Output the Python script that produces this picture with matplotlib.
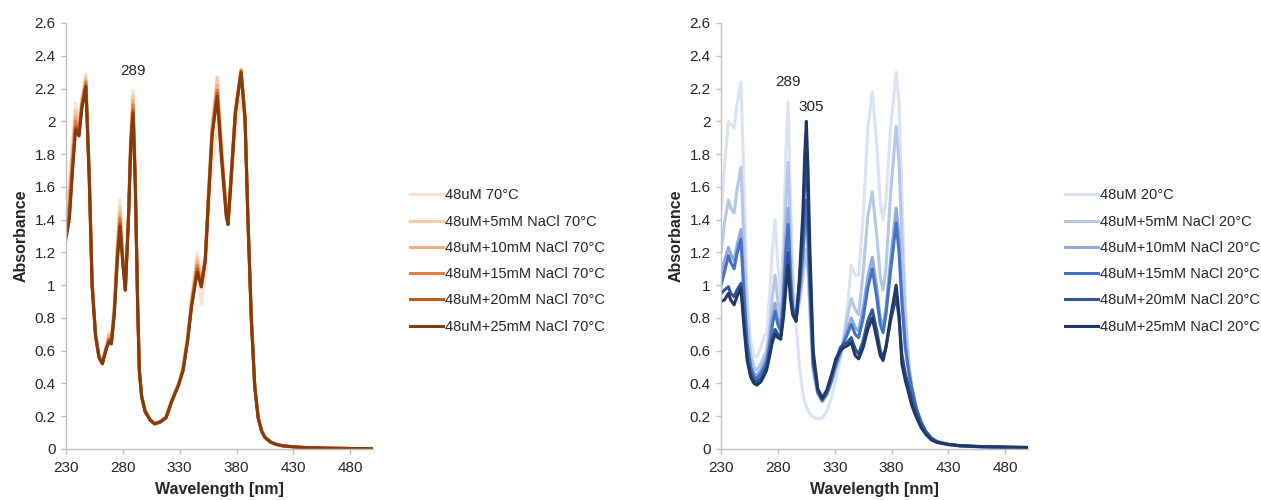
"""
UV-Vis absorbance spectra of a 48 uM sample with increasing NaCl, at 70 C and at 20 C
"""

import matplotlib.pyplot as plt
from matplotlib.ticker import FuncFormatter, MultipleLocator

plt.rcParams['font.family'] = ['Liberation Sans', 'DejaVu Sans']

# ---- 70 C panel -------------------------------------------------------------
wl_70 = [230, 233, 236, 238.5, 241.5, 244, 247.5, 250.5, 253, 256, 259, 262, 265.5, 268, 270, 272.5,
         275, 277.5, 280, 282.2, 285, 287, 289, 291, 293, 294.5, 296.5, 299.5, 304, 308, 313, 318,
         323, 329, 333, 337, 340.5, 345.5, 349, 352.5, 355.5, 358.5, 363, 367, 371, 372.5, 375, 379,
         384, 387.5, 390, 393, 396, 399, 402, 405, 410, 415, 420, 430, 440, 460, 480, 500]

abs_70_0 = [1.50, 1.62, 1.90, 2.11, 2.00, 2.15, 2.29, 1.72, 1.04, 0.72, 0.58, 0.54, 0.64, 0.72, 0.70, 0.88,
            1.25, 1.52, 1.20, 0.98, 1.45, 1.95, 2.19, 1.68, 0.92, 0.50, 0.33, 0.24, 0.18, 0.16, 0.17, 0.20,
            0.30, 0.40, 0.50, 0.70, 0.93, 1.20, 0.88, 1.05, 1.40, 1.72, 1.97, 1.70, 1.42, 1.38, 1.58, 1.92,
            2.16, 1.98, 1.45, 0.82, 0.40, 0.20, 0.115, 0.075, 0.045, 0.03, 0.022, 0.014, 0.01, 0.006, 0.004, 0.002]
abs_70_5 = [1.46, 1.58, 1.86, 2.07, 1.98, 2.13, 2.27, 1.70, 1.03, 0.71, 0.57, 0.53, 0.63, 0.70, 0.68, 0.86,
            1.22, 1.48, 1.18, 0.98, 1.44, 1.93, 2.16, 1.66, 0.91, 0.49, 0.33, 0.24, 0.18, 0.158, 0.168, 0.20,
            0.30, 0.40, 0.50, 0.69, 0.91, 1.17, 1.02, 1.18, 1.60, 1.98, 2.27, 1.84, 1.46, 1.40, 1.66, 2.08,
            2.32, 2.04, 1.44, 0.82, 0.40, 0.20, 0.115, 0.074, 0.044, 0.029, 0.021, 0.014, 0.009, 0.005, 0.003, 0.002]
abs_70_10 = [1.40, 1.52, 1.82, 2.03, 1.96, 2.11, 2.25, 1.68, 1.02, 0.70, 0.57, 0.53, 0.62, 0.69, 0.67, 0.85,
             1.19, 1.44, 1.16, 0.97, 1.43, 1.90, 2.13, 1.64, 0.90, 0.49, 0.33, 0.235, 0.178, 0.155, 0.166, 0.195,
             0.295, 0.395, 0.49, 0.68, 0.90, 1.15, 1.01, 1.17, 1.58, 1.96, 2.22, 1.81, 1.45, 1.39, 1.65, 2.07,
             2.31, 2.03, 1.42, 0.81, 0.39, 0.195, 0.112, 0.072, 0.043, 0.028, 0.02, 0.013, 0.009, 0.005, 0.003, 0.002]
abs_70_15 = [1.36, 1.48, 1.78, 2.00, 1.94, 2.10, 2.24, 1.67, 1.01, 0.70, 0.565, 0.525, 0.62, 0.675, 0.66, 0.84,
             1.17, 1.41, 1.15, 0.97, 1.42, 1.88, 2.10, 1.62, 0.895, 0.485, 0.325, 0.232, 0.178, 0.154, 0.166, 0.193,
             0.293, 0.393, 0.485, 0.67, 0.89, 1.12, 1.00, 1.16, 1.56, 1.94, 2.19, 1.79, 1.44, 1.38, 1.64, 2.06,
             2.31, 2.02, 1.41, 0.80, 0.385, 0.192, 0.11, 0.071, 0.042, 0.028, 0.02, 0.013, 0.009, 0.005, 0.003, 0.002]
abs_70_20 = [1.31, 1.43, 1.74, 1.97, 1.92, 2.09, 2.22, 1.65, 1.00, 0.69, 0.56, 0.52, 0.615, 0.665, 0.65, 0.83,
             1.15, 1.38, 1.14, 0.97, 1.41, 1.86, 2.07, 1.61, 0.89, 0.48, 0.32, 0.23, 0.177, 0.153, 0.165, 0.19,
             0.29, 0.39, 0.48, 0.665, 0.88, 1.10, 0.99, 1.15, 1.55, 1.92, 2.17, 1.77, 1.43, 1.37, 1.63, 2.05,
             2.30, 2.01, 1.40, 0.79, 0.38, 0.19, 0.11, 0.07, 0.042, 0.028, 0.02, 0.013, 0.009, 0.005, 0.003, 0.002]
abs_70_25 = [1.28, 1.40, 1.72, 1.95, 1.91, 2.08, 2.21, 1.64, 0.99, 0.69, 0.56, 0.52, 0.61, 0.655, 0.64, 0.82,
             1.13, 1.36, 1.13, 0.97, 1.40, 1.85, 2.05, 1.60, 0.89, 0.48, 0.32, 0.23, 0.177, 0.153, 0.165, 0.19,
             0.29, 0.39, 0.48, 0.66, 0.87, 1.08, 0.99, 1.15, 1.54, 1.91, 2.15, 1.76, 1.42, 1.37, 1.62, 2.05,
             2.30, 2.01, 1.40, 0.79, 0.38, 0.19, 0.11, 0.07, 0.042, 0.028, 0.02, 0.013, 0.009, 0.005, 0.003, 0.002]

labels_70 = ["48uM 70°C", "48uM+5mM NaCl 70°C", "48uM+10mM NaCl 70°C",
             "48uM+15mM NaCl 70°C", "48uM+20mM NaCl 70°C", "48uM+25mM NaCl 70°C"]

# ---- 20 C panel -------------------------------------------------------------
wl_20 = [230, 233, 236.5, 238.5, 241.5, 244, 247.5, 250.5, 253, 256, 259, 261.5, 265, 268, 270, 272.5,
         275, 277.5, 280, 282.5, 285, 287, 289, 291, 293, 296, 299, 302, 303.5, 305, 306.5, 308,
         311, 315, 319, 323, 327, 331, 335, 338, 341, 344.5, 348, 351, 355, 359, 363, 367,
         370, 372.5, 375, 379, 384, 386.5, 389, 392, 395, 398, 402, 406, 410, 415, 420, 430,
         440, 460, 480, 500]

abs_20_0 = [1.44, 1.72, 2.00, 1.98, 1.96, 2.10, 2.24, 1.55, 0.95, 0.66, 0.57, 0.56, 0.62, 0.69, 0.70, 0.92,
            1.20, 1.40, 1.12, 0.92, 1.30, 1.80, 2.12, 1.55, 1.10, 0.76, 0.50, 0.34, 0.29, 0.26, 0.235, 0.215,
            0.195, 0.185, 0.19, 0.23, 0.31, 0.42, 0.55, 0.68, 0.85, 1.12, 1.06, 1.06, 1.42, 1.95, 2.18, 1.85,
            1.50, 1.40, 1.52, 1.95, 2.30, 2.12, 1.55, 0.88, 0.56, 0.38, 0.25, 0.16, 0.10, 0.06, 0.04, 0.025,
            0.018, 0.012, 0.008, 0.006]
abs_20_5 = [1.20, 1.38, 1.52, 1.47, 1.44, 1.58, 1.72, 1.20, 0.80, 0.58, 0.50, 0.48, 0.52, 0.57, 0.60, 0.72,
            0.92, 1.06, 0.90, 0.82, 1.10, 1.50, 1.75, 1.30, 0.95, 0.80, 0.90, 1.05, 1.15, 1.22, 1.08, 0.85,
            0.48, 0.34, 0.29, 0.33, 0.40, 0.49, 0.57, 0.68, 0.80, 0.92, 0.85, 0.82, 1.08, 1.42, 1.57, 1.30,
            1.05, 0.97, 1.10, 1.55, 1.97, 1.75, 1.30, 0.80, 0.52, 0.37, 0.24, 0.16, 0.10, 0.06, 0.04, 0.025,
            0.018, 0.012, 0.009, 0.007]
abs_20_10 = [1.07, 1.15, 1.23, 1.19, 1.15, 1.24, 1.34, 0.95, 0.68, 0.52, 0.46, 0.45, 0.48, 0.53, 0.56, 0.66,
             0.80, 0.89, 0.80, 0.76, 0.98, 1.28, 1.47, 1.12, 0.88, 0.79, 0.95, 1.15, 1.33, 1.45, 1.25, 0.95,
             0.50, 0.34, 0.29, 0.33, 0.41, 0.50, 0.58, 0.66, 0.73, 0.80, 0.74, 0.72, 0.86, 1.05, 1.17, 0.98,
             0.80, 0.74, 0.86, 1.15, 1.47, 1.30, 0.95, 0.66, 0.48, 0.36, 0.24, 0.16, 0.105, 0.065, 0.045, 0.027,
             0.02, 0.013, 0.01, 0.008]
abs_20_15 = [1.00, 1.08, 1.18, 1.14, 1.10, 1.19, 1.28, 0.90, 0.64, 0.50, 0.44, 0.43, 0.46, 0.50, 0.53, 0.62,
             0.75, 0.84, 0.76, 0.72, 0.92, 1.20, 1.37, 1.05, 0.86, 0.79, 0.98, 1.22, 1.40, 1.52, 1.30, 1.00,
             0.52, 0.35, 0.30, 0.34, 0.42, 0.52, 0.60, 0.65, 0.70, 0.76, 0.70, 0.68, 0.80, 0.98, 1.10, 0.92,
             0.76, 0.71, 0.82, 1.08, 1.38, 1.20, 0.90, 0.62, 0.47, 0.36, 0.24, 0.165, 0.11, 0.068, 0.046, 0.028,
             0.02, 0.013, 0.01, 0.008]
abs_20_20 = [0.95, 0.97, 0.99, 0.95, 0.93, 0.97, 1.01, 0.75, 0.57, 0.46, 0.42, 0.41, 0.43, 0.47, 0.50, 0.58,
             0.67, 0.73, 0.70, 0.69, 0.85, 1.05, 1.20, 0.96, 0.83, 0.78, 1.02, 1.35, 1.62, 1.80, 1.50, 1.12,
             0.55, 0.36, 0.30, 0.35, 0.44, 0.54, 0.62, 0.64, 0.65, 0.68, 0.61, 0.58, 0.66, 0.78, 0.85, 0.72,
             0.60, 0.56, 0.62, 0.78, 0.93, 0.80, 0.58, 0.46, 0.38, 0.30, 0.22, 0.15, 0.10, 0.06, 0.042, 0.028,
             0.02, 0.014, 0.011, 0.009]
abs_20_25 = [0.90, 0.91, 0.95, 0.91, 0.88, 0.93, 0.98, 0.72, 0.54, 0.44, 0.40, 0.39, 0.41, 0.45, 0.48, 0.56,
             0.65, 0.70, 0.68, 0.67, 0.81, 0.98, 1.12, 0.92, 0.82, 0.78, 1.05, 1.45, 1.78, 2.00, 1.70, 1.25,
             0.60, 0.37, 0.31, 0.36, 0.45, 0.55, 0.60, 0.62, 0.63, 0.65, 0.57, 0.55, 0.62, 0.73, 0.80, 0.67,
             0.57, 0.54, 0.62, 0.80, 1.00, 0.82, 0.52, 0.42, 0.34, 0.26, 0.19, 0.13, 0.09, 0.055, 0.04, 0.028,
             0.02, 0.015, 0.012, 0.01]

labels_20 = ["48uM 20°C", "48uM+5mM NaCl 20°C", "48uM+10mM NaCl 20°C",
             "48uM+15mM NaCl 20°C", "48uM+20mM NaCl 20°C", "48uM+25mM NaCl 20°C"]

oranges = ["#fbe2d2", "#f8c9aa", "#f3ad7e", "#e57f3f", "#c45a17", "#843c0c"]
blues = ["#dae3f3", "#b4c7e7", "#8faadc", "#4472c4", "#2f5597", "#1f3864"]

TEXT = "#262626"
GRID = "#bfbfbf"


def style_axis(ax):
    """Excel-like axis: grey left/bottom spines, fixed ranges and plain tick labels"""
    ax.set_xlim(230, 500)
    ax.set_ylim(0, 2.6)
    ax.set_xticks([230, 280, 330, 380, 430, 480])
    ax.yaxis.set_major_locator(MultipleLocator(0.2))
    ax.yaxis.set_major_formatter(FuncFormatter(lambda v, p: f"{round(v, 1):g}"))
    for s in ["top", "right"]:
        ax.spines[s].set_visible(False)
    for s in ["left", "bottom"]:
        ax.spines[s].set_color(GRID)
        ax.spines[s].set_linewidth(1.0)
    ax.tick_params(axis="both", colors=GRID, labelcolor=TEXT, labelsize=11, length=3.5, width=1.0)
    ax.tick_params(axis="y", pad=4)
    ax.tick_params(axis="x", pad=5)
    ax.set_xlabel("Wavelength [nm]", fontsize=11.5, fontweight="bold", color=TEXT, va="center")
    ax.set_ylabel("Absorbance", fontsize=11.5, fontweight="bold", color=TEXT, va="center", ha="center")
    ax.xaxis.set_label_coords(0.5, -0.096)
    ax.yaxis.set_label_coords(-0.145, 0.5)


fig = plt.figure(figsize=(12.61, 5.0), dpi=100)
ax1 = fig.add_axes([0.0523, 0.102, 0.2435, 0.852])
ax2 = fig.add_axes([0.5718, 0.102, 0.2435, 0.852])

series_70 = [abs_70_0, abs_70_5, abs_70_10, abs_70_15, abs_70_20, abs_70_25]
series_20 = [abs_20_0, abs_20_5, abs_20_10, abs_20_15, abs_20_20, abs_20_25]

for ys, c, lab in zip(series_70, oranges, labels_70):
    ax1.plot(wl_70, ys, color=c, lw=2.2, label=lab, solid_joinstyle="round")
for ys, c, lab in zip(series_20, blues, labels_20):
    ax2.plot(wl_20, ys, color=c, lw=2.2, label=lab, solid_joinstyle="round")

style_axis(ax1)
style_axis(ax2)

ax1.text(289, 2.31, "289", ha="center", va="center", fontsize=11, color=TEXT)
ax2.text(289, 2.24, "289", ha="center", va="center", fontsize=11, color=TEXT)
ax2.text(309.5, 2.09, "305", ha="center", va="center", fontsize=11, color=TEXT)

leg_kw = dict(loc="center left", frameon=False, fontsize=10.5, handlelength=2.26, handletextpad=0.15,
              labelspacing=0.84, borderpad=0, borderaxespad=0, labelcolor=TEXT)
h1, l1 = ax1.get_legend_handles_labels()
h2, l2 = ax2.get_legend_handles_labels()
fig.legend(h1, l1, bbox_to_anchor=(410 / 1261, 0.478), bbox_transform=fig.transFigure, **leg_kw)
fig.legend(h2, l2, bbox_to_anchor=(1065 / 1261, 0.478), bbox_transform=fig.transFigure, **leg_kw)

fig.savefig("out.png", dpi=100)
